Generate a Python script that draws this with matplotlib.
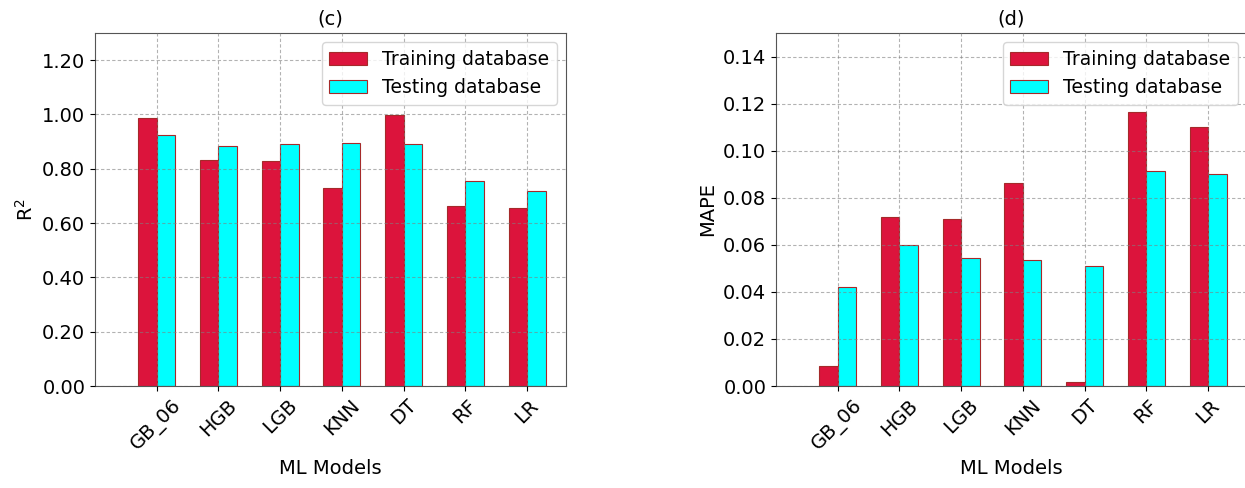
import numpy as np
import matplotlib
matplotlib.use("Agg")
import matplotlib.pyplot as plt

models = ['GB_06', 'HGB', 'LGB', 'KNN', 'DT', 'RF', 'LR']

r2_train = [0.986, 0.833, 0.827, 0.730, 0.998, 0.662, 0.655]
r2_test = [0.923, 0.885, 0.893, 0.895, 0.893, 0.756, 0.719]

mape_train = [0.0085, 0.0720, 0.0710, 0.0864, 0.0016, 0.1163, 0.1102]
mape_test = [0.0422, 0.0598, 0.0543, 0.0534, 0.0510, 0.0915, 0.0902]

plt.rcParams['font.family'] = 'DejaVu Sans'
plt.rcParams['font.size'] = 14

fig = plt.figure(figsize=(12.45, 4.88), dpi=100)
ax1 = fig.add_axes([0.0763, 0.209, 0.3783, 0.7234])
ax2 = fig.add_axes([0.6233, 0.209, 0.3783, 0.7234])

x = np.arange(len(models))
w = 0.3


def panel(ax, train, test, title, ylabel, ylim, yticks, fmt):
    ax.bar(x - w/2, train, w, color='crimson', edgecolor='brown',
           linewidth=0.8, label='Training database', zorder=2)
    ax.bar(x + w/2, test, w, color='cyan', edgecolor='brown',
           linewidth=0.8, label='Testing database', zorder=2)
    ax.set_xticks(x)
    ax.set_xticklabels(models, rotation=45)
    ax.set_xlim(-1, 6.63)
    ax.set_ylim(*ylim)
    ax.set_yticks(yticks)
    ax.set_yticklabels([fmt.format(v) for v in yticks])
    ax.set_axisbelow(False)
    ax.grid(True, linestyle=(0, (3, 2)), linewidth=0.8, color='gray',
            alpha=0.6, zorder=3)
    ax.set_title(title, fontsize=14)
    ax.set_ylabel(ylabel)
    ax.set_xlabel('ML Models')
    leg = ax.legend(loc='upper right', fontsize=13.5)
    leg.set_zorder(5)
    for s in ax.spines.values():
        s.set_color('#555555')


panel(ax1, r2_train, r2_test, '(c)', 'R$^2$', (0, 1.3),
      np.arange(0, 1.21, 0.2), '{:.2f}')
panel(ax2, mape_train, mape_test, '(d)', 'MAPE', (0, 0.15),
      np.arange(0, 0.141, 0.02), '{:.2f}')

fig.savefig('out.png', dpi=100)
